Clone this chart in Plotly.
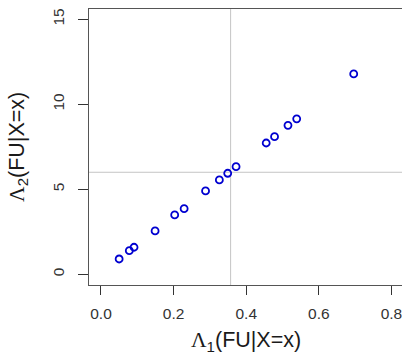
import plotly.graph_objects as go

lambda1 = [0.050, 0.078, 0.091, 0.149, 0.203, 0.229, 0.288, 0.326, 0.349, 0.372,
           0.455, 0.478, 0.515, 0.539, 0.696]
lambda2 = [0.90, 1.39, 1.59, 2.55, 3.49, 3.86, 4.90, 5.55, 5.94, 6.33,
           7.72, 8.09, 8.76, 9.14, 11.78]
vline_x = 0.357
hline_y = 6.0
x_ticks = [0.0, 0.2, 0.4, 0.6, 0.8]
x_ticktext = ["0.0", "0.2", "0.4", "0.6", "0.8"]
y_ticks = [0, 5, 10, 15]
y_ticktext = ["0", "5", "10", "15"]

fig = go.Figure()
fig.add_trace(go.Scatter(
    x=lambda1, y=lambda2, mode="markers",
    marker=dict(symbol="circle-open", size=7, color="#0000d0", line=dict(width=1.8, color="#0000d0")),
    showlegend=False, hoverinfo="skip"))

fig.add_shape(type="line", xref="x", yref="paper", x0=vline_x, x1=vline_x, y0=0, y1=1,
              line=dict(color="#c4c4c4", width=1), layer="below")
fig.add_shape(type="line", xref="paper", yref="y", x0=0, x1=1, y0=hline_y, y1=hline_y,
              line=dict(color="#c4c4c4", width=1), layer="below")

tickfont = dict(family="Liberation Sans, Arial, sans-serif", size=15.5, color="#333333")
fig.update_xaxes(range=[-0.033, 0.829], tickvals=x_ticks, ticktext=x_ticktext,
                 showgrid=False, zeroline=False, showline=True, mirror=True,
                 linecolor="#555555", linewidth=1, ticks="outside", ticklen=9,
                 tickcolor="#333333", tickwidth=1, tickfont=tickfont, ticklabelstandoff=5,
                 ticklabeloverflow="allow", automargin=False)
fig.update_yaxes(range=[-0.63, 15.6], tickvals=y_ticks, ticktext=y_ticktext,
                 showgrid=False, zeroline=False, showline=True, mirror=False,
                 linecolor="#555555", linewidth=1, ticks="outside", ticklen=10,
                 tickcolor="#333333", tickwidth=1, tickfont=tickfont, tickangle=-90,
                 ticklabelstandoff=8, ticklabeloverflow="allow", automargin=False)

titlefont = dict(family="Liberation Sans, Arial, sans-serif", size=21.5, color="#1a1a1a")
lam = '<span style="font-family:Liberation Serif">Λ</span>'
fig.add_annotation(text=lam + "<sub>1</sub>(FU|X=x)", xref="paper", yref="paper",
                   x=0.5, y=-0.205, xanchor="center", yanchor="middle",
                   showarrow=False, font=titlefont)
fig.add_annotation(text=lam + "<sub>2</sub>(FU|X=x)", xref="paper", yref="paper",
                   x=-0.227, y=0.5, xanchor="center", yanchor="middle", textangle=-90,
                   showarrow=False, font=titlefont)

fig.update_layout(width=402, height=356, margin=dict(l=89, r=0, t=9, b=71, autoexpand=False),
                  paper_bgcolor="white", plot_bgcolor="white")
fig.write_html("out.html", config={"displayModeBar": False},
               post_script="document.body.style.margin='0';document.body.style.overflow='hidden';")
